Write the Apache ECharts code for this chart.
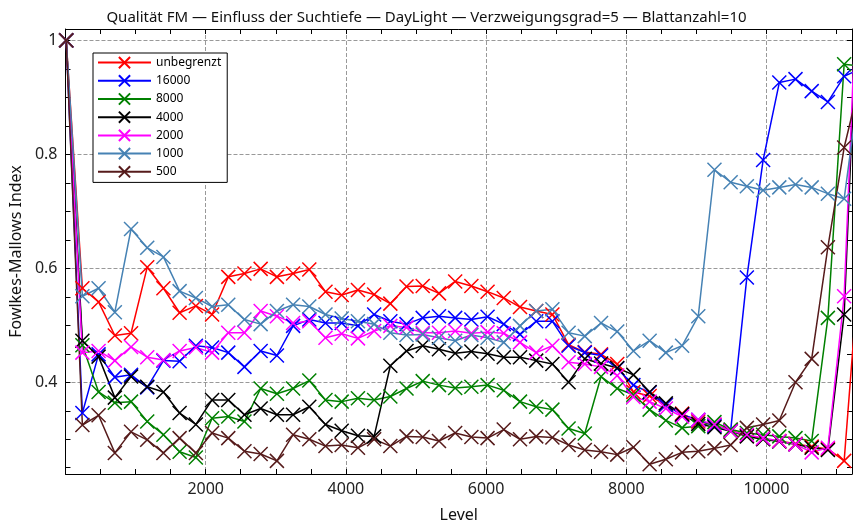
<!DOCTYPE html>
<html>
<head>
<meta charset="utf-8">
<title>Qualität FM</title>
<script src="https://cdn.jsdelivr.net/npm/echarts@6/dist/echarts.min.js"></script>
<style>
  html, body { margin: 0; padding: 0; background: #fff; }
  #chart { width: 853px; height: 528px; }
</style>
</head>
<body>
<div id="chart"></div>
<script>
// x positions (Level) of the points
const levels = [10, 241, 472, 704, 935, 1166, 1397, 1628, 1860, 2091,
    2322, 2553, 2784, 3016, 3247, 3478, 3709, 3940, 4172, 4403,
    4634, 4865, 5096, 5328, 5559, 5790, 6021, 6252, 6484, 6715,
    6946, 7177, 7408, 7640, 7871, 8102, 8333, 8564, 8796, 9027,
    9258, 9489, 9720, 9952, 10183, 10414, 10645, 10876, 11108, 11339];

const unbegrenzt = [1.0, 0.565, 0.541, 0.482, 0.486, 0.602, 0.565, 0.522, 0.534, 0.519,
    0.585, 0.591, 0.599, 0.585, 0.591, 0.598, 0.559, 0.553, 0.562, 0.554,
    0.538, 0.568, 0.569, 0.556, 0.577, 0.569, 0.559, 0.548, 0.532, 0.525,
    0.519, 0.466, 0.453, 0.449, 0.432, 0.383, 0.376, 0.360, 0.345, 0.331,
    0.325, 0.316, 0.306, 0.301, 0.297, 0.292, 0.287, 0.283, 0.262, 0.63];
const s16000 = [1.0, 0.346, 0.449, 0.409, 0.413, 0.391, 0.438, 0.437, 0.464, 0.461,
    0.452, 0.427, 0.455, 0.447, 0.499, 0.510, 0.504, 0.504, 0.499, 0.519,
    0.507, 0.502, 0.513, 0.516, 0.513, 0.510, 0.515, 0.502, 0.484, 0.507,
    0.507, 0.464, 0.452, 0.447, 0.424, 0.395, 0.382, 0.360, 0.343, 0.334,
    0.323, 0.315, 0.584, 0.790, 0.926, 0.932, 0.911, 0.892, 0.937, 0.95];
const s8000 = [1.0, 0.465, 0.383, 0.364, 0.366, 0.331, 0.308, 0.278, 0.268, 0.337,
    0.340, 0.331, 0.389, 0.380, 0.389, 0.403, 0.369, 0.366, 0.372, 0.369,
    0.375, 0.389, 0.402, 0.395, 0.390, 0.392, 0.395, 0.386, 0.366, 0.357,
    0.352, 0.319, 0.310, 0.410, 0.389, 0.378, 0.352, 0.333, 0.320, 0.323,
    0.330, 0.317, 0.311, 0.308, 0.305, 0.302, 0.297, 0.513, 0.958, 0.955];
const s4000 = [1.0, 0.473, 0.445, 0.373, 0.410, 0.392, 0.383, 0.346, 0.326, 0.369,
    0.369, 0.343, 0.354, 0.343, 0.343, 0.357, 0.326, 0.315, 0.306, 0.305,
    0.429, 0.455, 0.464, 0.458, 0.451, 0.454, 0.450, 0.444, 0.444, 0.438,
    0.432, 0.400, 0.441, 0.433, 0.425, 0.413, 0.383, 0.363, 0.344, 0.327,
    0.321, 0.314, 0.305, 0.300, 0.296, 0.291, 0.285, 0.281, 0.519, 1.2];
const s2000 = [1.0, 0.452, 0.455, 0.438, 0.462, 0.444, 0.439, 0.455, 0.461, 0.452,
    0.487, 0.487, 0.525, 0.516, 0.504, 0.507, 0.478, 0.485, 0.477, 0.490,
    0.499, 0.496, 0.487, 0.487, 0.490, 0.486, 0.488, 0.486, 0.470, 0.452,
    0.464, 0.435, 0.432, 0.427, 0.412, 0.374, 0.366, 0.354, 0.340, 0.334,
    0.326, 0.314, 0.308, 0.302, 0.297, 0.291, 0.277, 0.285, 0.551, 1.25];
const s1000 = [1.0, 0.551, 0.565, 0.523, 0.669, 0.636, 0.620, 0.560, 0.548, 0.533,
    0.536, 0.510, 0.502, 0.525, 0.536, 0.533, 0.519, 0.512, 0.507, 0.502,
    0.487, 0.483, 0.484, 0.478, 0.473, 0.483, 0.478, 0.470, 0.499, 0.525,
    0.528, 0.487, 0.481, 0.504, 0.489, 0.455, 0.473, 0.452, 0.464, 0.516,
    0.773, 0.751, 0.744, 0.737, 0.742, 0.747, 0.742, 0.731, 0.722, 0.935];
const s500 = [1.0, 0.325, 0.342, 0.276, 0.313, 0.299, 0.276, 0.302, 0.276, 0.311,
    0.302, 0.279, 0.274, 0.262, 0.308, 0.300, 0.288, 0.290, 0.285, 0.300,
    0.288, 0.305, 0.304, 0.297, 0.311, 0.304, 0.302, 0.317, 0.300, 0.305,
    0.303, 0.290, 0.281, 0.278, 0.273, 0.286, 0.256, 0.265, 0.277, 0.279,
    0.284, 0.290, 0.320, 0.326, 0.333, 0.400, 0.441, 0.637, 0.812, 0.93];

const seriesNames = ['unbegrenzt', '16000', '8000', '4000', '2000', '1000', '500'];
const seriesValues = [unbegrenzt, s16000, s8000, s4000, s2000, s1000, s500];
const seriesColors = ['#ff0000', '#0000ff', '#008000', '#000000', '#ff00ff', '#4682b4', '#561b1b'];

// axis labels and ticks
const xLabels = [2000, 4000, 6000, 8000, 10000];
const xTicks = [500, 1000, 1500, 2000, 2500, 3000, 3500, 4000, 4500, 5000, 5500,
    6000, 6500, 7000, 7500, 8000, 8500, 9000, 9500, 10000, 10500, 11000];
const yLabels = [0.4, 0.6, 0.8, 1];
const yTicks = [0.25, 0.3, 0.35, 0.4, 0.45, 0.5, 0.55, 0.6, 0.65, 0.7, 0.75,
    0.8, 0.85, 0.9, 0.95, 1.0];

const font = '"Noto Sans", "Open Sans", sans-serif';
const xMin = 0, xMax = 11220;
const yMin = 0.239, yMax = 1.02;
const crossSymbol = 'path://M0 0L10 10M10 0L0 10';

const chart = echarts.init(document.getElementById('chart'), null, { renderer: 'canvas' });

function tickAxis(pos, min, max, ticks, showLine) {
    return {
        type: 'value',
        position: pos,
        min: min,
        max: max,
        axisLine: { show: showLine, onZero: false, lineStyle: { color: '#000', width: 1 } },
        axisTick: { show: true, inside: true, length: 5, customValues: ticks,
            lineStyle: { color: '#000', width: 1 } },
        axisLabel: { show: false },
        splitLine: { show: false }
    };
}

const series = seriesNames.map(function (name, i) {
    return {
        name: name,
        type: 'line',
        xAxisIndex: 0,
        yAxisIndex: 0,
        data: levels.map(function (lv, k) { return [lv, seriesValues[i][k]]; }),
        symbol: crossSymbol,
        symbolSize: 14,
        clip: true,
        color: seriesColors[i],
        lineStyle: { color: seriesColors[i], width: 1.5 },
        itemStyle: { color: seriesColors[i], borderColor: seriesColors[i], borderWidth: 1.5 },
        emphasis: { disabled: true }
    };
});

const option = {
    animation: false,
    backgroundColor: '#fff',
    textStyle: { fontFamily: font },
    title: {
        text: 'Qualität FM — Einfluss der Suchtiefe — DayLight — Verzweigungsgrad=5 — Blattanzahl=10',
        left: 'center',
        top: 5,
        textStyle: { fontFamily: font, fontSize: 15, fontWeight: 'normal', color: '#111' }
    },
    legend: {
        data: seriesNames,
        orient: 'vertical',
        left: 93,
        top: 53,
        itemWidth: 53,
        itemHeight: 14,
        itemGap: 5,
        padding: [3, 6, 4, 4],
        backgroundColor: '#fff',
        borderColor: '#000',
        borderWidth: 1,
        textStyle: { fontFamily: font, fontSize: 12, color: '#000' }
    },
    grid: { left: 60, right: 1, top: 29, bottom: 48, containLabel: false },
    xAxis: [
        {
            type: 'value',
            min: xMin,
            max: xMax,
            interval: 2000,
            position: 'bottom',
            name: 'Level',
            nameLocation: 'middle',
            nameGap: 33,
            nameTextStyle: { fontFamily: font, fontSize: 16, color: '#111' },
            axisLine: { show: true, onZero: false, lineStyle: { color: '#000', width: 1 } },
            axisTick: { show: false },
            axisLabel: { customValues: xLabels, fontFamily: font, fontSize: 16, color: '#222', margin: 7,
                formatter: function (v) { return String(v); } },
            splitLine: { show: true, lineStyle: { color: '#999', type: [4, 2], width: 1 } }
        },
        tickAxis('bottom', xMin, xMax, xTicks, false),
        tickAxis('top', xMin, xMax, xTicks, true)
    ],
    yAxis: [
        {
            type: 'value',
            min: yMin,
            max: yMax,
            splitNumber: 4,
            position: 'left',
            name: 'Fowlkes-Mallows Index',
            nameLocation: 'middle',
            nameGap: 33,
            nameTextStyle: { fontFamily: font, fontSize: 16, color: '#111' },
            axisLine: { show: true, onZero: false, lineStyle: { color: '#000', width: 1 } },
            axisTick: { show: false },
            axisLabel: { customValues: yLabels, fontFamily: font, fontSize: 16, color: '#222', margin: 8,
                formatter: function (v) { return String(v); } },
            splitLine: { show: true, lineStyle: { color: '#999', type: [4, 2], width: 1 } }
        },
        tickAxis('left', yMin, yMax, yTicks, false),
        tickAxis('right', yMin, yMax, yTicks, true)
    ],
    series: series
};

chart.setOption(option);

window.addEventListener('resize', function () {
    chart.resize();
});
</script>
</body>
</html>
